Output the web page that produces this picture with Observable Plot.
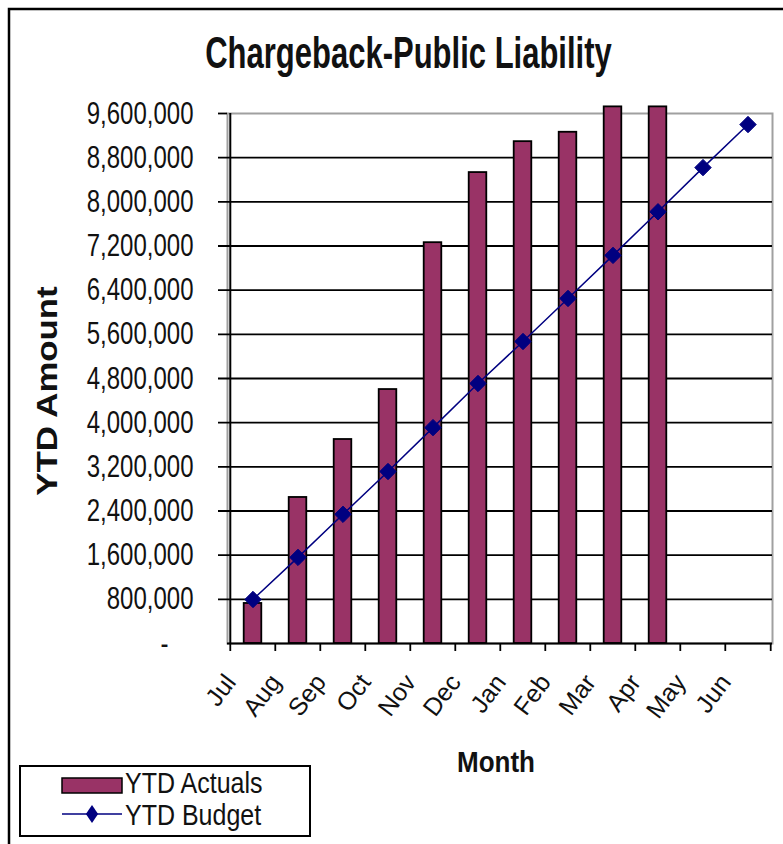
<!DOCTYPE html>
<html>
<head>
<meta charset="utf-8">
<script src="https://cdn.jsdelivr.net/npm/d3@7"></script>
<script src="https://cdn.jsdelivr.net/npm/@observablehq/plot@0.6"></script>
<style>
  html, body { margin: 0; padding: 0; background: white; }
  #wrap { position: relative; width: 783px; height: 844px; overflow: hidden; background: white; }
  #wrap > svg { position: absolute; left: 0; top: 0; }
  #overlay { pointer-events: none; }
</style>
</head>
<body>
<div id="wrap"></div>
<script>
const months = ["Jul","Aug","Sep","Oct","Nov","Dec","Jan","Feb","Mar","Apr","May","Jun"];
const ytdActuals = [725000, 2645000, 3695000, 4600000, 7260000, 8530000, 9090000, 9260000, 9720000, 9720000, null, null];
const ytdBudget = [797000, 1560000, 2340000, 3115000, 3910000, 4710000, 5470000, 6250000, 7030000, 7820000, 8620000, 9400000];
const yTicks = [0, 800000, 1600000, 2400000, 3200000, 4000000, 4800000, 5600000, 6400000, 7200000, 8000000, 8800000, 9600000];

const titleText = "Chargeback-Public Liability";
const yTitle = "YTD Amount";
const xTitle = "Month";
const seriesNames = ["YTD Actuals", "YTD Budget"];
const barColor = "#993366";
const lineColor = "#000080";

const actualData = months.map((m, i) => ({month: m, value: ytdActuals[i]})).filter(d => d.value != null);
const budgetData = months.map((m, i) => ({month: m, value: ytdBudget[i]}));

const W = 783, H = 844;
const mL = 227, mR = 11, mT = 113, mB = 201;
const step = (W - mL - mR) / months.length;
const barW = 18;
const inset = (step - barW) / 2;
const sans = "'Liberation Sans', Arial, sans-serif";

const chart = Plot.plot({
  width: W, height: H,
  marginLeft: mL, marginRight: mR, marginTop: mT, marginBottom: mB,
  x: {domain: months, padding: 0, axis: null},
  y: {domain: [0, 9600000], axis: null},
  style: {background: "white", fontFamily: sans},
  marks: [
    Plot.frame({stroke: "#a0a0a0", strokeWidth: 2}),
    Plot.ruleY(yTicks.filter(v => v > 0 && v < 9600000), {y: d => d, stroke: "black", strokeWidth: 1.8, insetLeft: -9}),
    Plot.ruleY([9600000], {y: d => d, stroke: "black", strokeWidth: 1.8, insetLeft: -9, insetRight: W - mL - mR}),
    Plot.ruleX(months, {x: d => d, dx: -step / 2, stroke: "black", strokeWidth: 1.8, insetTop: H - mT - mB, insetBottom: -8}),
    Plot.ruleX([months[months.length - 1]], {x: d => d, dx: step / 2, stroke: "black", strokeWidth: 1.8, insetTop: H - mT - mB, insetBottom: -8}),
    Plot.ruleX([months[0]], {x: d => d, dx: -step / 2, stroke: "black", strokeWidth: 2}),
    Plot.barY(actualData, {x: "month", y: "value", fill: barColor, stroke: "black", strokeWidth: 1.8, insetLeft: inset, insetRight: inset}),
    Plot.ruleY([0], {y: d => d, stroke: "black", strokeWidth: 2.2}),
    Plot.line(budgetData, {x: "month", y: "value", stroke: lineColor, strokeWidth: 1.5}),
    Plot.dot(budgetData, {x: "month", y: "value", symbol: "diamond2", r: 7.4, fill: lineColor, stroke: lineColor, strokeWidth: 1}),
    Plot.text(yTicks.filter(v => v > 0), {y: d => d, frameAnchor: "left", text: d => d3.format(",")(d), textAnchor: "end", dx: -34, fontSize: 24, fill: "#111"}),
    Plot.text([0], {y: d => d, frameAnchor: "left", text: () => "-", textAnchor: "middle", dx: -63, fontSize: 24, fill: "#111"}),
    Plot.text(months, {x: d => d, frameAnchor: "bottom", text: d => d, rotate: -53, textAnchor: "end", dx: -16, dy: 39, fontSize: 25, fill: "#111"})
  ]
});
document.getElementById("wrap").appendChild(chart);

// stretch the value labels vertically, as in the reference picture
const textGroups = chart.querySelectorAll('g[aria-label="text"]');
textGroups.forEach((g, gi) => {
  if (gi >= 2) return;
  g.querySelectorAll("text").forEach(t => {
    const tr = t.getAttribute("transform") || "";
    t.setAttribute("transform", tr + " scale(1,1.3)");
  });
});

const ns = "http://www.w3.org/2000/svg";
const ov = d3.select("#wrap").append("svg").attr("id", "overlay")
  .attr("width", W).attr("height", H).attr("xmlns", ns);
ov.append("rect").attr("x", 9).attr("y", 9).attr("width", 900).attr("height", 900)
  .attr("fill", "none").attr("stroke", "black").attr("stroke-width", 2.5);
ov.append("text").attr("transform", "translate(408.5,68) scale(1,1.45)")
  .attr("text-anchor", "middle").attr("font-family", sans).attr("font-weight", "bold")
  .attr("font-size", 31).attr("fill", "#111").text(titleText);
ov.append("text").attr("transform", "translate(57,391) rotate(-90) scale(1.2,1)")
  .attr("text-anchor", "middle").attr("font-family", sans).attr("font-weight", "bold")
  .attr("font-size", 29).attr("fill", "#111").text(yTitle);
ov.append("text").attr("transform", "translate(496,772) scale(1,1.1)")
  .attr("text-anchor", "middle").attr("font-family", sans).attr("font-weight", "bold")
  .attr("font-size", 26).attr("fill", "#111").text(xTitle);
// legend
ov.append("rect").attr("x", 20).attr("y", 766).attr("width", 290).attr("height", 70)
  .attr("fill", "white").attr("stroke", "black").attr("stroke-width", 2);
ov.append("rect").attr("x", 62).attr("y", 778).attr("width", 60).attr("height", 15)
  .attr("fill", barColor).attr("stroke", "black").attr("stroke-width", 1.5);
ov.append("text").attr("transform", "translate(125,793) scale(1,1.15)").attr("font-family", sans)
  .attr("font-size", 25).attr("fill", "#111").text(seriesNames[0]);
ov.append("line").attr("x1", 62).attr("x2", 122).attr("y1", 814).attr("y2", 814)
  .attr("stroke", lineColor).attr("stroke-width", 1.5);
ov.append("path").attr("transform", "translate(92,814) scale(0.85,1.25)")
  .attr("d", d3.symbol(d3.symbolDiamond2, Math.PI * 6.5 * 6.5)()).attr("fill", lineColor);
ov.append("text").attr("transform", "translate(125,825) scale(1,1.15)").attr("font-family", sans)
  .attr("font-size", 25).attr("fill", "#111").text(seriesNames[1]);
</script>
</body>
</html>
